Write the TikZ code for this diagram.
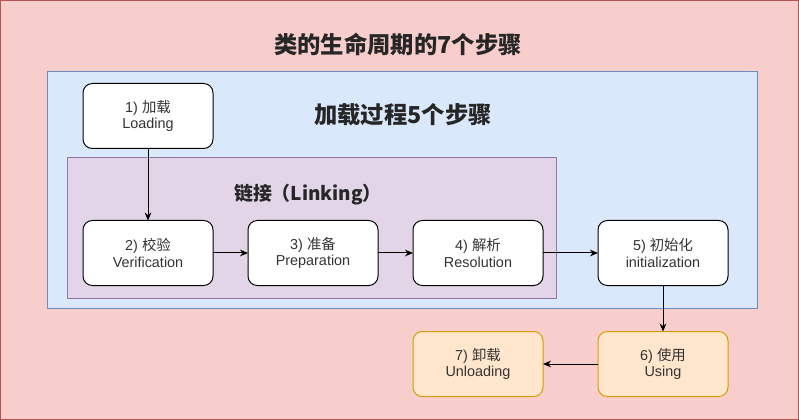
\documentclass[tikz,border=0pt]{standalone}
\usepackage{fontspec}
\setmainfont{Liberation Sans}
\newfontfamily\cjk{Noto Sans CJK SC}
\usetikzlibrary{positioning, arrows.meta}
\definecolor{lifeBg}{HTML}{f8cecc}
\definecolor{lifeBgB}{HTML}{b85450}
\definecolor{loadBg}{HTML}{dae8fc}
\definecolor{loadBgB}{HTML}{6c8ebf}
\definecolor{linkBg}{HTML}{e1d5e7}
\definecolor{linkBgB}{HTML}{9673a6}
\definecolor{useBox}{HTML}{ffe6cc}
\definecolor{useBoxB}{HTML}{d79b00}
\definecolor{txt}{HTML}{333333}
\newcommand{\stage}[2]{#1\\#2}

\begin{document}
\begin{tikzpicture}[x=0.75pt,y=-0.75pt,phase/.style={draw, rounded corners=7pt, minimum width=97.5pt, minimum height=48.75pt, outer sep=0pt, align=center, font=\fontsize{10.8}{12.5}\selectfont, text=txt, line width=0.75pt},step1/.style={phase, fill=white, draw=black},step2/.style={phase, fill=useBox, draw=useBoxB},flow/.style={-{Stealth[length=6pt,width=5pt]}, line width=0.75pt},ttl/.style={font=\fontsize{17.5}{20}\selectfont\bfseries\cjk, text=black!85}]
\useasboundingbox (0,0) rectangle (799,420);
\draw[fill=lifeBg, draw=lifeBgB, line width=0.75pt] (0.5,0.5) rectangle (798.5,419.5);
\draw[fill=loadBg, draw=loadBgB, line width=0.75pt] (47,72) rectangle (757,308);
\draw[fill=linkBg, draw=linkBgB, line width=0.75pt] (67,158) rectangle (556,298);
\node[ttl] (title) at (398,44) {类的生命周期的7个步骤};
\node[ttl] (loadTitle) at (403,115) {加载过程5个步骤};
\node[ttl, font=\fontsize{14.2}{17}\selectfont\bfseries\cjk] (linkTitle) at (308,195) {链接（Linking）};
\node[step1] (load) at (148,116) {\stage{1) {\cjk 加载}}{Loading}};
\node[step1, below=54pt of load] (verify) {\stage{2) {\cjk 校验}}{Verification}};
\node[step1, right=26.25pt of verify] (prep) {\stage{3) {\cjk 准备}}{Preparation}};
\node[step1, right=26.25pt of prep] (resolve) {\stage{4) {\cjk 解析}}{Resolution}};
\node[step1, right=41.25pt of resolve] (init) {\stage{5) {\cjk 初始化}}{initialization}};
\node[step2, below=34.5pt of init] (use) {\stage{6) {\cjk 使用}}{Using}};
\node[step2, left=41.25pt of use] (unload) {\stage{7) {\cjk 卸载}}{Unloading}};
\draw[flow] (load) -- (verify);
\draw[flow] (verify) -- (prep);
\draw[flow] (prep) -- (resolve);
\draw[flow] (resolve) -- (init);
\draw[flow] (init) -- (use);
\draw[flow] (use) -- (unload);
\end{tikzpicture}
\end{document}
